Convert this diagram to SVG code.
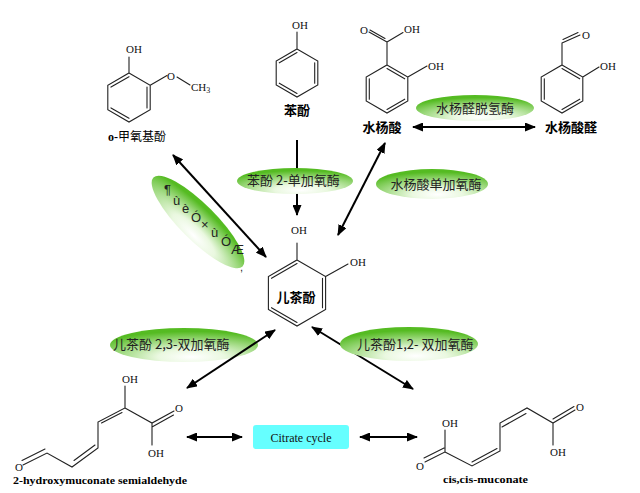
<svg xmlns="http://www.w3.org/2000/svg" width="640" height="493" viewBox="0 0 640 493">
<defs>
<radialGradient id="eg" cx="0.55" cy="0.85" r="0.75">
<stop offset="0" stop-color="#ffffff"/>
<stop offset="0.3" stop-color="#eaf8e0"/>
<stop offset="1" stop-color="#55bb22"/>
</radialGradient>
<marker id="ah" markerUnits="userSpaceOnUse" markerWidth="11" markerHeight="9" refX="10" refY="4.5" orient="auto-start-reverse">
<path d="M0,0 L11,4.5 L0,9 z" fill="#000"/>
</marker>
</defs>
<style>
.b{fill:none;stroke:#222;stroke-width:1.1;stroke-linecap:round}
.at{font-family:"Liberation Serif",serif;font-size:11px;fill:#111}
.nm{font-family:"Noto Sans CJK SC",sans-serif;font-size:13px;font-weight:bold;fill:#000}
.en{font-family:"Noto Sans CJK SC",sans-serif;font-size:13px;fill:#222}
.el{fill:url(#eg)}
.ar{fill:none;stroke:#000;stroke-width:2;marker-end:url(#ah)}
.ar2{fill:none;stroke:#000;stroke-width:2;marker-start:url(#ah);marker-end:url(#ah)}
.en2{font-family:"Liberation Serif",serif;font-size:11px;font-weight:bold;fill:#000}
</style>
<rect width="640" height="493" fill="#fff"/>

<g id="guaiacol">
<path class="b" d="M129,73 L150.2,85.25 L150.2,109.75 L129,122 L107.8,109.75 L107.8,85.25 Z M129,76.7 L111,87.1 M147,87.1 L147,107.9 M111,107.9 L129,118.3 M129,73 L129,57 M150.2,85.25 L167,75.5 M177,77 L190,85"/>
<text class="at" x="126" y="53">OH</text>
<text class="at" x="167" y="80">O</text>
<text class="at" x="191" y="91">CH<tspan font-size="8" dy="2">3</tspan></text>
<text x="108" y="141" font-family="Noto Sans CJK SC,sans-serif" font-size="12"><tspan font-family="Liberation Serif,serif" font-weight="bold">o-</tspan>甲氧基酚</text>
</g>

<g id="phenol">
<path class="b" d="M297,49 L317.8,61 L317.8,85 L297,97 L276.2,85 L276.2,61 Z M297,52.6 L279.3,62.8 M314.7,62.8 L314.7,83.2 M279.3,83.2 L297,93.4 M297,49 L297,32"/>
<text class="at" x="292" y="29">OH</text>
<text class="nm" x="297" y="115" text-anchor="middle">苯酚</text>
</g>

<g id="salicylic-acid">
<path class="b" d="M387,65 L407.8,77 L407.8,101 L387,113 L366.2,101 L366.2,77 Z M369.3,78.8 L369.3,99.2 M387,109.4 L404.7,99.2 M387,68.6 L404.7,78.8 M387,65 L387,42 M387,42 L369,32 M385,38.5 L370,30 M387,42 L403,32.5 M407.8,77 L427,66"/>
<text class="at" x="360" y="34">O</text>
<text class="at" x="404" y="33">OH</text>
<text class="at" x="428" y="70">OH</text>
<text class="nm" x="382" y="132" text-anchor="middle">水杨酸</text>
</g>

<g id="salicylaldehyde">
<path class="b" d="M562,65 L582.8,77 L582.8,101 L562,113 L541.2,101 L541.2,77 Z M544.3,78.8 L544.3,99.2 M562,109.4 L579.7,99.2 M562,68.6 L579.7,78.8 M562,65 L562,43 M562,43 L580,35 M563,39.5 L578,32.5 M582.8,77 L599,67"/>
<text class="at" x="582" y="39">O</text>
<text class="at" x="600" y="70">OH</text>
<text class="nm" x="571" y="132" text-anchor="middle">水杨酸醛</text>
</g>

<g id="catechol">
<path class="b" d="M297,260 L325.6,276.5 L325.6,309.5 L297,326 L268.4,309.5 L268.4,276.5 Z M297,263.6 L271.5,278.3 M322.5,278.3 L322.5,307.7 M271.5,307.7 L297,322.4 M297,260 L297,243 M325.6,276.5 L348,264"/>
<text class="at" x="291" y="234">OH</text>
<text class="at" x="350" y="266">OH</text>
<text class="nm" x="296" y="302" text-anchor="middle">儿茶酚</text>
</g>

<g id="hydroxymuconate-semialdehyde">
<path class="b" d="M125,386 L125,408 L98,422 L98,448 L72,467 L47,453 L23,465 M122,412.5 L101.5,423 M95,445 L74,460.5 M45,449 L22,460.5 M125,408 L152,423 L174,411 M152,427 L173.5,415 M152,423 L152,445"/>
<text class="at" x="122" y="383">OH</text>
<text class="at" x="175" y="412">O</text>
<text class="at" x="148" y="457">OH</text>
<text class="at" x="15" y="471">O</text>
<text class="en2" x="13" y="484" textLength="174" lengthAdjust="spacingAndGlyphs">2-hydroxymuconate semialdehyde</text>
</g>

<g id="cis-cis-muconate">
<path class="b" d="M445,430 L445,452 L425,462 M444,448 L424,458 M445,452 L472,466 L500,451 L500,423 L527,408 L553,423 L575,410 M472,462 L497,448.5 M502,427 L526,413.5 M553,419 L574,406.5 M553,423 L553,445"/>
<text class="at" x="442" y="427">OH</text>
<text class="at" x="416" y="470">O</text>
<text class="at" x="576" y="411">O</text>
<text class="at" x="550" y="456">OH</text>
<text class="en2" x="443" y="483" textLength="85" lengthAdjust="spacingAndGlyphs">cis,cis-muconate</text>
</g>

<g id="citrate-cycle">
<rect x="253" y="425" width="96" height="24" rx="3" fill="#66ffff"/>
<text x="301" y="442" text-anchor="middle" font-family="Liberation Serif,serif" font-size="12" fill="#111">Citrate cycle</text>
</g>

<g id="enzyme-23">
<ellipse class="el" cx="184" cy="345" rx="74" ry="17"/>
<text class="en" x="113" y="349">儿茶酚 2,3-双加氧酶</text>
</g>

<g id="connectors">
<path class="ar2" d="M413,127 L535,127"/>
<path class="ar2" d="M173,155 L266,257"/>
<path class="ar" d="M297,140 L297,215"/>
<path class="ar2" d="M385,143 L338,235"/>
<path class="ar2" d="M275,330 L187,388"/>
<path class="ar2" d="M312,327 L413,389"/>
<path class="ar2" d="M187,437 L242,437"/>
<path class="ar2" d="M360,437 L417,437"/>
</g>

<g id="enzyme-salicylaldehyde-dh">
<ellipse class="el" cx="475" cy="108" rx="59" ry="13"/>
<text class="en" x="475" y="113" text-anchor="middle">水杨醛脱氢酶</text>
</g>

<g id="enzyme-phenol">
<ellipse class="el" cx="295" cy="181" rx="58" ry="13"/>
<text class="en" x="247" y="185">苯酚 2-单加氧酶</text>
</g>

<g id="enzyme-salicylate">
<ellipse class="el" cx="432" cy="184" rx="56" ry="15"/>
<text class="en" x="436" y="189" text-anchor="middle">水杨酸单加氧酶</text>
</g>

<g id="enzyme-guaiacol">
<ellipse class="el" cx="0" cy="0" rx="63" ry="18" transform="translate(198,222) rotate(45)"/>
<text x="164 173 182 191 201 211 221 231" y="194 205 213 222 229 237 246 254" font-family="Liberation Sans,sans-serif" font-size="13" fill="#222">¶ùèÓ×ùÓÆ</text>
<text x="240" y="271" font-family="Liberation Sans,sans-serif" font-size="11" fill="#222">,</text>
</g>

<g id="enzyme-12">
<ellipse class="el" cx="409" cy="344" rx="69" ry="17"/>
<text class="en" x="357" y="349">儿茶酚1,2- 双加氧酶</text>
</g>
</svg>
